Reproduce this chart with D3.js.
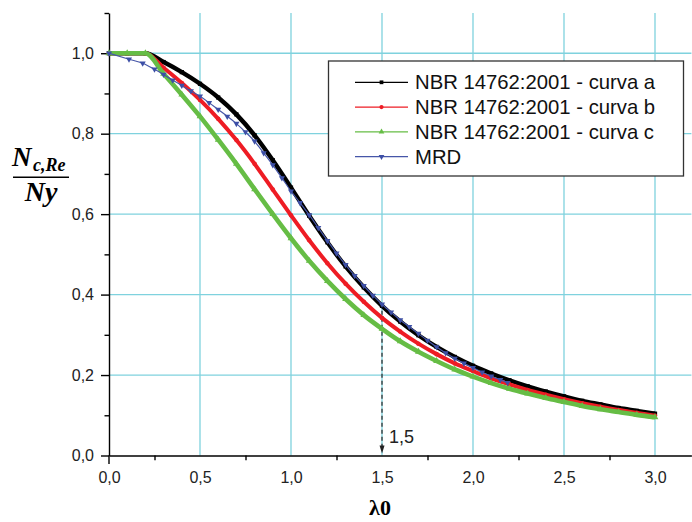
<!DOCTYPE html>
<html lang="pt">
<head>
<meta charset="UTF-8">
<title>Nc,Re / Ny x λ0</title>
<script src="https://cdnjs.cloudflare.com/ajax/libs/d3/7.8.5/d3.min.js"></script>
<style>
  body { margin: 0; background: #fff; }
  svg { display: block; }
  .axis text { font-family: "Liberation Sans", Arial, sans-serif; font-size: 16px; fill: #222; }
  .axis path, .axis line { stroke: #000; stroke-width: 1.4px; }
  .grid line { stroke: #7fd2de; stroke-width: 1.3px; }
  .legend text { font-family: "Liberation Sans", Arial, sans-serif; font-size: 20.3px; fill: #111; }
  .serif { font-family: "Liberation Serif", "DejaVu Serif", serif; font-weight: bold; fill: #000; }
</style>
</head>
<body>
<div id="chart"></div>
<script>
// lambda0 values where the NBR curves were read
const lambda = [0.0, 0.1, 0.2, 0.3, 0.4, 0.5, 0.6, 0.7, 0.8, 0.9, 1.0,
                1.1, 1.2, 1.3, 1.4, 1.5, 1.6, 1.7, 1.8, 1.9, 2.0,
                2.1, 2.2, 2.3, 2.4, 2.5, 2.6, 2.7, 2.8, 2.9, 3.0];

const curvaA = [1.000, 1.000, 1.000, 0.978, 0.953, 0.924, 0.890, 0.848, 0.796, 0.734, 0.666,
                0.596, 0.530, 0.470, 0.418, 0.372, 0.333, 0.299, 0.270, 0.245, 0.223,
                0.204, 0.187, 0.172, 0.159, 0.147, 0.136, 0.127, 0.118, 0.111, 0.104];

const curvaB = [1.000, 1.000, 1.000, 0.964, 0.926, 0.884, 0.837, 0.784, 0.725, 0.661, 0.597,
                0.535, 0.478, 0.427, 0.382, 0.342, 0.308, 0.278, 0.252, 0.229, 0.210,
                0.192, 0.177, 0.163, 0.151, 0.140, 0.130, 0.121, 0.113, 0.106, 0.099];

const curvaC = [1.000, 1.000, 1.000, 0.949, 0.897, 0.843, 0.785, 0.725, 0.662, 0.600, 0.540,
                0.484, 0.434, 0.389, 0.349, 0.315, 0.284, 0.258, 0.235, 0.214, 0.196,
                0.180, 0.166, 0.154, 0.143, 0.133, 0.123, 0.115, 0.108, 0.101, 0.095];

// MRD results
const mrdLambda = [0.00, 0.11, 0.185, 0.25, 0.30, 0.35, 0.40, 0.45, 0.50, 0.55, 0.60,
                   0.65, 0.70, 0.75, 0.80, 0.85, 0.90, 0.95, 1.00, 1.05, 1.10,
                   1.15, 1.20, 1.25, 1.30, 1.35, 1.40, 1.45, 1.50, 1.55, 1.60,
                   1.65, 1.70, 1.75, 1.80, 1.85, 1.90, 1.95, 2.00, 2.05, 2.10,
                   2.15, 2.19];
const mrdValue  = [1.000, 0.985, 0.975, 0.960, 0.947, 0.933, 0.920, 0.906, 0.893, 0.877, 0.860,
                   0.843, 0.825, 0.804, 0.781, 0.752, 0.722, 0.690, 0.657, 0.628, 0.598,
                   0.566, 0.534, 0.503, 0.474, 0.447, 0.422, 0.398, 0.376, 0.356, 0.337,
                   0.320, 0.303, 0.286, 0.270, 0.255, 0.241, 0.229, 0.218, 0.207, 0.197,
                   0.188, 0.181];

const seriesNames = ["NBR 14762:2001 - curva a", "NBR 14762:2001 - curva b",
                     "NBR 14762:2001 - curva c", "MRD"];

const xTicks = [0, 0.5, 1.0, 1.5, 2.0, 2.5, 3.0];
const xMinor = [0.25, 0.75, 1.25, 1.75, 2.25, 2.75, 3.25];
const yTicks = [0, 0.2, 0.4, 0.6, 0.8, 1.0];
const yMinor = [0.1, 0.3, 0.5, 0.7, 0.9, 1.1];

const arrowAt = 1.5, arrowFrom = 0.36;

const W = 692, H = 522;
const x = d3.scaleLinear().domain([0, 3.2]).range([109, 691.4]);
const y = d3.scaleLinear().domain([0, 1.1]).range([455.5, 13]);

const br = d3.formatLocale({decimal: ",", thousands: ".", grouping: [3], currency: ["R$", ""]});
const fmt = br.format(".1f");

const svg = d3.select("#chart").append("svg")
    .attr("width", W).attr("height", H);

// grid
const grid = svg.append("g").attr("class", "grid");
grid.selectAll(".gx").data(xTicks.filter(d => d > 0)).enter().append("line")
    .attr("x1", d => x(d)).attr("x2", d => x(d))
    .attr("y1", y(1.1)).attr("y2", y(0));
grid.selectAll(".gy").data(yTicks.filter(d => d > 0)).enter().append("line")
    .attr("x1", x(0)).attr("x2", x(3.2))
    .attr("y1", d => y(d)).attr("y2", d => y(d));

// dashed marker at lambda0 = 1,5
svg.append("line")
    .attr("x1", x(arrowAt)).attr("x2", x(arrowAt))
    .attr("y1", y(arrowFrom)).attr("y2", y(0) - 9)
    .attr("stroke", "#333").attr("stroke-width", 1.3)
    .attr("stroke-dasharray", "4,3");
svg.append("path")
    .attr("d", `M${x(arrowAt) - 2.5},${y(0) - 10} L${x(arrowAt) + 2.5},${y(0) - 10} L${x(arrowAt)},${y(0) - 2} Z`)
    .attr("fill", "#222");
svg.append("text")
    .attr("x", x(arrowAt) + 7).attr("y", 443)
    .style("font-family", "'Liberation Sans', Arial, sans-serif")
    .style("font-size", "18px").style("fill", "#222")
    .text(fmt(arrowAt));

// axes
svg.append("g").attr("class", "axis")
    .attr("transform", `translate(0,${y(0)})`)
    .call(d3.axisBottom(x).tickValues(xTicks).tickSize(0).tickSizeOuter(0)
        .tickPadding(16.3).tickFormat(fmt));
svg.append("g").attr("class", "axis")
    .attr("transform", `translate(0,${y(0)})`)
    .call(d3.axisBottom(x).tickValues(xMinor).tickSize(4.7).tickSizeOuter(0).tickFormat(""))
    .select(".domain").remove();

svg.append("g").attr("class", "axis")
    .attr("transform", `translate(${x(0)},0)`)
    .call(d3.axisLeft(y).tickValues(yTicks).tickSize(8).tickSizeOuter(0)
        .tickPadding(7).tickFormat(fmt));
svg.append("g").attr("class", "axis")
    .attr("transform", `translate(${x(0)},0)`)
    .call(d3.axisLeft(y).tickValues(yMinor).tickSize(4.5).tickSizeOuter(0).tickFormat(""))
    .select(".domain").remove();
// y axis runs a little below the x axis
svg.append("line").attr("x1", x(0)).attr("x2", x(0))
    .attr("y1", y(0)).attr("y2", y(0) + 8.5)
    .attr("stroke", "#000").attr("stroke-width", 1.4);

// curves
const line = d3.line().curve(d3.curveMonotoneX).x(d => x(d[0])).y(d => y(d[1]));
const sym = {
    square: d3.symbol().type(d3.symbolSquare).size(18),
    circle: d3.symbol().type(d3.symbolCircle).size(16),
    triangle: d3.symbol().type(d3.symbolTriangle).size(20),
    down: d3.symbol().type(d3.symbolTriangle).size(16)
};

const series = [
    {name: seriesNames[0], xs: lambda, ys: curvaA, color: "#000000", width: 4.4, marker: "square", mcolor: "#000"},
    {name: seriesNames[1], xs: lambda, ys: curvaB, color: "#ee1c24", width: 4, marker: "circle", mcolor: "#ee1c24"},
    {name: seriesNames[2], xs: lambda, ys: curvaC, color: "#66bd45", width: 4.6, marker: "triangle", mcolor: "#66bd45"},
    {name: seriesNames[3], xs: mrdLambda, ys: mrdValue, color: "#4656a8", width: 1.2, marker: "down", mcolor: "#3d4fa6"}
];

series.forEach(function (s) {
    const pts = s.xs.map((v, i) => [v, s.ys[i]]);
    svg.append("path").datum(pts)
        .attr("d", line)
        .attr("fill", "none")
        .attr("stroke", s.color)
        .attr("stroke-width", s.width)
        .attr("stroke-linejoin", "round");
    svg.append("g").selectAll("path").data(pts).enter().append("path")
        .attr("d", sym[s.marker])
        .attr("transform", d => `translate(${x(d[0])},${y(d[1])})` + (s.marker === "down" ? " rotate(180)" : ""))
        .attr("fill", s.mcolor);
});

// legend
const lg = svg.append("g").attr("class", "legend");
lg.append("rect")
    .attr("x", 328.5).attr("y", 61).attr("width", 355).attr("height", 115)
    .attr("fill", "#fff").attr("stroke", "#333").attr("stroke-width", 1.3);
series.forEach(function (s, i) {
    const cy = 82.3 + i * 24.8;
    lg.append("line").attr("x1", 355).attr("x2", 408).attr("y1", cy).attr("y2", cy)
        .attr("stroke", s.color).attr("stroke-width", 1.2);
    lg.append("path").attr("d", d3.symbol().type(s.marker === "square" ? d3.symbolSquare :
            s.marker === "circle" ? d3.symbolCircle : d3.symbolTriangle).size(14))
        .attr("transform", `translate(381.5,${cy})` + (s.marker === "down" ? " rotate(180)" : ""))
        .attr("fill", s.mcolor);
    lg.append("text").attr("x", 415).attr("y", cy + 7).text(s.name);
});

// axis titles
const yl = svg.append("g");
yl.append("text").attr("class", "serif").attr("x", 12).attr("y", 166)
    .style("font-style", "italic").style("font-size", "27px").text("N");
yl.append("text").attr("class", "serif").attr("x", 33).attr("y", 171)
    .style("font-style", "italic").style("font-size", "18px").text("c,Re");
yl.append("line").attr("x1", 13).attr("x2", 69).attr("y1", 177.3).attr("y2", 177.3)
    .attr("stroke", "#000").attr("stroke-width", 1.5);
yl.append("text").attr("class", "serif").attr("x", 41).attr("y", 201)
    .attr("text-anchor", "middle")
    .style("font-style", "italic").style("font-size", "28px").text("Ny");

svg.append("text").attr("class", "serif")
    .attr("x", 380).attr("y", 515).attr("text-anchor", "middle")
    .style("font-size", "22px").text("λ0");
</script>
</body>
</html>
